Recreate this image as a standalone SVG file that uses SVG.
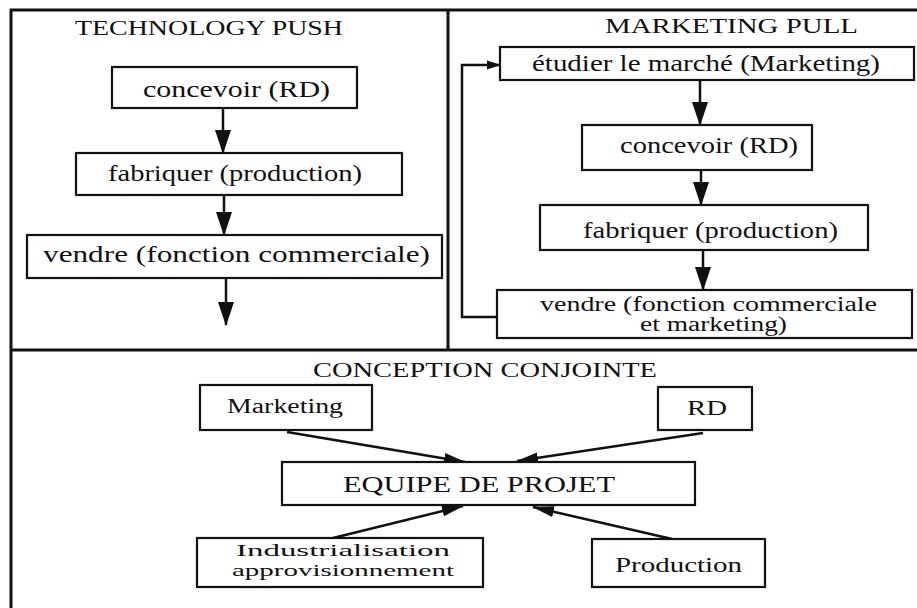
<svg xmlns="http://www.w3.org/2000/svg" width="917" height="608" viewBox="0 0 917 608">
<style>
.frame{stroke:#111;stroke-width:3;fill:none}
.box{fill:#fff;stroke:#111;stroke-width:2.2}
.t{font-family:"Liberation Serif","Times New Roman",serif;fill:#111}
.title{font-size:20px}
.b{font-size:23px}
.s{font-size:20px}
.xs{font-size:17px}
.c{stroke:#111;stroke-width:2.5;fill:none}
</style>
<defs>
<marker id="ah" markerUnits="userSpaceOnUse" markerWidth="24" markerHeight="18" viewBox="0 0 24 18" refX="23" refY="9" orient="auto">
<path d="M0,1 L24,9 L0,17 z" fill="#111"/>
</marker>
<marker id="ah2" markerUnits="userSpaceOnUse" markerWidth="22" markerHeight="12" viewBox="0 0 22 12" refX="21" refY="6" orient="auto">
<path d="M0,0.5 L22,6 L0,11.5 z" fill="#111"/>
</marker>
<marker id="ah3" markerUnits="userSpaceOnUse" markerWidth="14" markerHeight="10" viewBox="0 0 14 10" refX="13" refY="5" orient="auto">
<path d="M0,0.5 L14,5 L0,9.5 z" fill="#111"/>
</marker>
</defs>
<rect width="917" height="608" fill="#fff"/>
<g id="frame">
<line class="frame" x1="10" y1="10" x2="917" y2="10"/>
<line class="frame" x1="11" y1="9" x2="11" y2="608"/>
<line class="frame" x1="448" y1="10" x2="448" y2="350"/>
<line class="frame" x1="10" y1="350" x2="917" y2="350"/>
</g>
<g id="titles">
<text class="t title" x="75" y="35" textLength="268" lengthAdjust="spacingAndGlyphs">TECHNOLOGY PUSH</text>
<text class="t title" x="605" y="33" textLength="253" lengthAdjust="spacingAndGlyphs">MARKETING PULL</text>
<text class="t title" x="313" y="377" textLength="344" lengthAdjust="spacingAndGlyphs">CONCEPTION CONJOINTE</text>
</g>
<g id="connectors">
<line class="c" x1="223" y1="108" x2="223" y2="153" marker-end="url(#ah)"/>
<line class="c" x1="224" y1="195" x2="224" y2="235" marker-end="url(#ah)"/>
<line class="c" x1="226" y1="278" x2="226" y2="325" marker-end="url(#ah)"/>
<line class="c" x1="700" y1="80" x2="700" y2="125" marker-end="url(#ah)"/>
<line class="c" x1="701" y1="170" x2="701" y2="205" marker-end="url(#ah)"/>
<line class="c" x1="703" y1="250" x2="703" y2="290" marker-end="url(#ah)"/>
<polyline class="c" points="497,317 462,317 462,65 500,65" marker-end="url(#ah3)"/>
<line class="c" x1="287" y1="432" x2="465" y2="462" marker-end="url(#ah2)"/>
<line class="c" x1="703" y1="433" x2="517" y2="461" marker-end="url(#ah2)"/>
<line class="c" x1="333" y1="538" x2="463" y2="506" marker-end="url(#ah2)"/>
<line class="c" x1="672" y1="539" x2="533" y2="507" marker-end="url(#ah2)"/>
</g>
<g id="tp-concevoir">
<rect class="box" x="112" y="67" width="245" height="41"/>
<text class="t b" x="143" y="97" textLength="187" lengthAdjust="spacingAndGlyphs">concevoir (RD)</text>
</g>
<g id="tp-fabriquer">
<rect class="box" x="76" y="153" width="326" height="42"/>
<text class="t b" x="108" y="181" textLength="254" lengthAdjust="spacingAndGlyphs">fabriquer (production)</text>
</g>
<g id="tp-vendre">
<rect class="box" x="27" y="235" width="415" height="43"/>
<text class="t b" x="43" y="262" textLength="387" lengthAdjust="spacingAndGlyphs">vendre (fonction commerciale)</text>
</g>
<g id="mp-etudier">
<rect class="box" x="500" y="47" width="414" height="33"/>
<text class="t b" x="532" y="71" textLength="348" lengthAdjust="spacingAndGlyphs">étudier le marché (Marketing)</text>
</g>
<g id="mp-concevoir">
<rect class="box" x="582" y="125" width="230" height="45"/>
<text class="t b" x="620" y="153" textLength="178" lengthAdjust="spacingAndGlyphs">concevoir (RD)</text>
</g>
<g id="mp-fabriquer">
<rect class="box" x="540" y="205" width="328" height="45"/>
<text class="t b" x="583" y="238" textLength="255" lengthAdjust="spacingAndGlyphs">fabriquer (production)</text>
</g>
<g id="mp-vendre">
<rect class="box" x="497" y="290" width="415" height="48"/>
<text class="t s" x="540" y="311" textLength="337" lengthAdjust="spacingAndGlyphs">vendre (fonction commerciale</text>
<text class="t s" x="640" y="331" textLength="147" lengthAdjust="spacingAndGlyphs">et marketing)</text>
</g>
<g id="cc-marketing">
<rect class="box" x="200" y="385" width="172" height="45"/>
<text class="t s" x="227" y="413" textLength="116" lengthAdjust="spacingAndGlyphs">Marketing</text>
</g>
<g id="cc-rd">
<rect class="box" x="658" y="387" width="94" height="43"/>
<text class="t s" x="687" y="415" textLength="40" lengthAdjust="spacingAndGlyphs">RD</text>
</g>
<g id="cc-equipe">
<rect class="box" x="282" y="462" width="413" height="43"/>
<text class="t b" x="343" y="492" textLength="272" lengthAdjust="spacingAndGlyphs">EQUIPE DE PROJET</text>
</g>
<g id="cc-industrialisation">
<rect class="box" x="197" y="538" width="286" height="49"/>
<text class="t xs" x="236" y="556" textLength="214" lengthAdjust="spacingAndGlyphs">Industrialisation</text>
<text class="t xs" x="232" y="576" textLength="222" lengthAdjust="spacingAndGlyphs">approvisionnement</text>
</g>
<g id="cc-production">
<rect class="box" x="592" y="539" width="173" height="48"/>
<text class="t s" x="615" y="572" textLength="127" lengthAdjust="spacingAndGlyphs">Production</text>
</g>
</svg>
